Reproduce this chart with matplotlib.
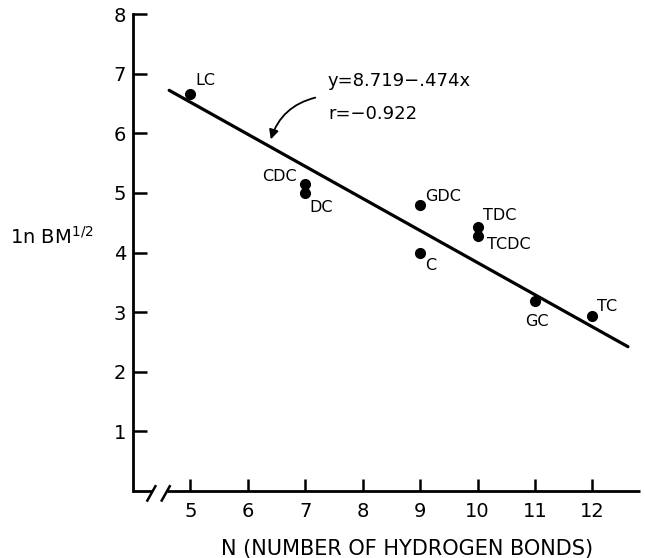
import matplotlib
matplotlib.use("Agg")
import matplotlib.pyplot as plt

# ---- data ----
compounds = ["LC", "CDC", "DC", "GDC", "C", "TDC", "TCDC", "GC", "TC"]
n_hbonds = [5, 7, 7, 9, 9, 10, 10, 11, 12]
ln_bm = [6.65, 5.15, 5.0, 4.8, 4.0, 4.43, 4.28, 3.18, 2.93]
fit_x = [4.63, 12.62]
fit_y = [6.72, 2.42]
x_ticks = [5, 6, 7, 8, 9, 10, 11, 12]
x_ticklabels = ["5", "6", "7", "8", "9", "10", "11", "12"]
y_ticks = [1, 2, 3, 4, 5, 6, 7, 8]
y_ticklabels = ["1", "2", "3", "4", "5", "6", "7", "8"]
eq_lines = ["y=8.719\u2212.474x", "r=\u22120.922"]
# label offsets in pixels (dx, dy, ha)
label_offsets = {
    "LC": (5, 14, "left"), "CDC": (-9, 7, "right"), "DC": (4, -15, "left"),
    "GDC": (5, 8, "left"), "C": (5, -13, "left"), "TDC": (5, 11, "left"),
    "TCDC": (9, -9, "left"), "GC": (2, -20, "center"), "TC": (5, 10, "left"),
}

plt.rcParams['font.family'] = ['DejaVu Sans']
fig = plt.figure(figsize=(6.45, 5.58), dpi=100)
ax = fig.add_axes([133/645, 67/558, (640-133)/645, (491-14)/558])
ax.set_xlim(4, 12.83)
ax.set_ylim(0, 8)

for s in ["top", "right", "bottom"]:
    ax.spines[s].set_visible(False)
ax.spines["left"].set_linewidth(2)

# x axis drawn with a break
xt = ax.get_xaxis_transform()
ax.plot([4, 4.33], [0, 0], color="black", lw=2, transform=xt, clip_on=False, solid_capstyle="butt")
ax.plot([4.6, 12.83], [0, 0], color="black", lw=2, transform=xt, clip_on=False, solid_capstyle="butt")
for bx in [4.32, 4.57]:
    ax.plot([bx - 0.07, bx + 0.07], [-0.020, 0.010], color="black", lw=1.8,
            transform=xt, clip_on=False)

ax.set_xticks(x_ticks)
ax.set_xticklabels(x_ticklabels)
ax.set_yticks(y_ticks)
ax.set_yticklabels(y_ticklabels)
ax.tick_params(axis="x", direction="in", length=9, width=1.8, pad=8, labelsize=14)
ax.tick_params(axis="y", direction="in", length=10, width=1.8, pad=5, labelsize=14)

ax.plot(fit_x, fit_y, color="black", lw=2.3, solid_capstyle="round")
ax.plot(n_hbonds, ln_bm, "o", color="black", markersize=7)

for name, x, y in zip(compounds, n_hbonds, ln_bm):
    dx, dy, ha = label_offsets[name]
    ax.annotate(name, (x, y), xytext=(dx, dy), textcoords="offset pixels",
                ha=ha, va="center", fontsize=11.5)

ax.text(328/645, 1 - 81/558, eq_lines[0], transform=fig.transFigure,
        fontsize=13, va="center", ha="left")
ax.text(328/645, 1 - 114/558, eq_lines[1], transform=fig.transFigure,
        fontsize=13, va="center", ha="left")

ax.annotate("", xy=(270/645, 1 - 142/558), xytext=(318/645, 1 - 97/558),
            xycoords="figure fraction", textcoords="figure fraction",
            arrowprops=dict(arrowstyle="-|>", color="black", lw=1.3,
                            mutation_scale=14,
                            connectionstyle="arc3,rad=0.3"))

fig.text(10/645, 1 - 237/558, r"1n BM$^{\mathregular{1/2}}$", fontsize=14,
         va="center", ha="left")
fig.text(407/645, 1 - 549/558, "N (NUMBER OF HYDROGEN BONDS)", fontsize=15,
         va="center", ha="center")

fig.savefig("out.png", dpi=100)
